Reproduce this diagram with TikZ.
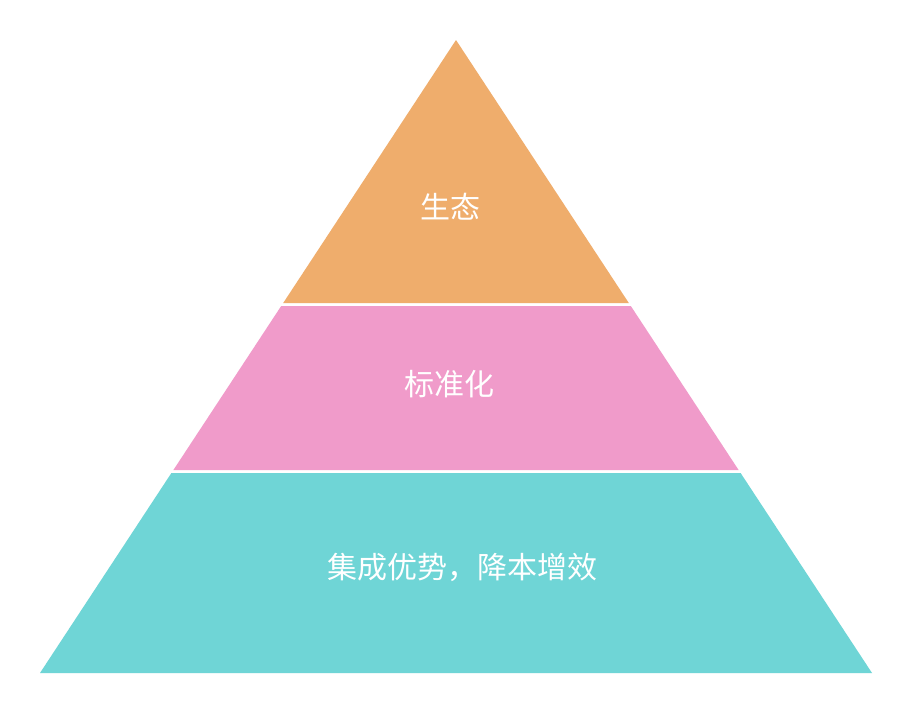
\documentclass[tikz,border=0pt]{standalone}
\usepackage{fontspec}
\newfontfamily\cjk{Noto Sans CJK SC}
\definecolor{lvtop}{RGB}{239,173,108}
\definecolor{lvmid}{RGB}{240,155,202}
\definecolor{lvbot}{RGB}{111,213,214}
\tikzset{
  layer/.style={draw=none},
  lbl/.style={text=white,font=\cjk\fontsize{30pt}{34pt}\selectfont,inner sep=0pt}
}
\begin{document}
\begin{tikzpicture}[x=1pt,y=-1pt]
\useasboundingbox[fill=white] (0,0) rectangle (912,712);
\coordinate (apex) at (456,40);
\fill[lvtop,layer] (apex) -- (628.8,303) -- (283.2,303) -- cycle;
\fill[lvmid,layer] (281.2,306) -- (630.8,306) -- (738.6,470) -- (173.4,470) -- cycle;
\fill[lvbot,layer] (171.4,473) -- (740.6,473) -- (872,673) -- (40,673) -- cycle;
\node[lbl] (t1) at (450,207) {生态};
\node[lbl] (t2) at (449,384) {标准化};
\node[lbl] (t3) at (462,567) {集成优势，降本增效};
\end{tikzpicture}
\end{document}
